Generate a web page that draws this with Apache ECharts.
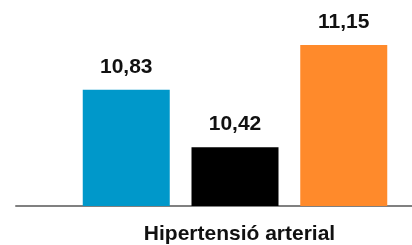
<!DOCTYPE html>
<html>
<head>
<meta charset="utf-8">
<script src="https://cdn.jsdelivr.net/npm/echarts@6/dist/echarts.min.js"></script>
<style>
  html, body { margin: 0; padding: 0; background: #fff; }
  #main { width: 412px; height: 245px; }
</style>
</head>
<body>
<div id="main"></div>
<script>
// data
const categories = ['Hipertensió arterial']
const seriesNames = ['A', 'B', 'C']
const seriesValues = [[10.83], [10.42], [11.15]]
const seriesColors = ['#0098CA', '#000000', '#FF8A2B']

const chart = echarts.init(document.getElementById('main'))

const series = seriesNames.map((name, i) => ({
  name: name,
  type: 'bar',
  xAxisIndex: 0,
  yAxisIndex: 0,
  barWidth: 87,
  barGap: '25%',
  data: seriesValues[i],
  itemStyle: { color: seriesColors[i] },
  label: {
    show: true,
    position: 'top',
    distance: 12,
    color: '#111',
    fontFamily: 'Liberation Sans',
    fontWeight: 'bold',
    fontSize: 21,
    formatter: p => p.value.toFixed(2).replace('.', ',')
  }
}))

chart.setOption({
  animation: false,
  grid: [
    { left: 58, right: 0, top: 10, bottom: 39, outerBoundsMode: 'none', containLabel: false },
    // only carries the long baseline
    { left: 16, right: 0, top: 10, bottom: 39, outerBoundsMode: 'none', containLabel: false }
  ],
  xAxis: [
    {
      type: 'category',
      gridIndex: 0,
      data: categories,
      axisLine: { show: false },
      axisTick: { show: false },
      axisLabel: {
        margin: 18,
        padding: [0, 0, 0, 9],
        color: '#111',
        fontFamily: 'Liberation Sans',
        fontWeight: 'bold',
        fontSize: 21
      }
    },
    {
      type: 'category',
      gridIndex: 1,
      data: categories,
      axisLine: { show: true, lineStyle: { color: '#808080', width: 2 } },
      axisTick: { show: false },
      axisLabel: { show: false }
    }
  ],
  yAxis: [
    { type: 'value', gridIndex: 0, min: 10, max: 11.4, show: false, splitLine: { show: false } },
    { type: 'value', gridIndex: 1, min: 0, max: 1, show: false, splitLine: { show: false } }
  ],
  series: series
})
</script>
</body>
</html>
